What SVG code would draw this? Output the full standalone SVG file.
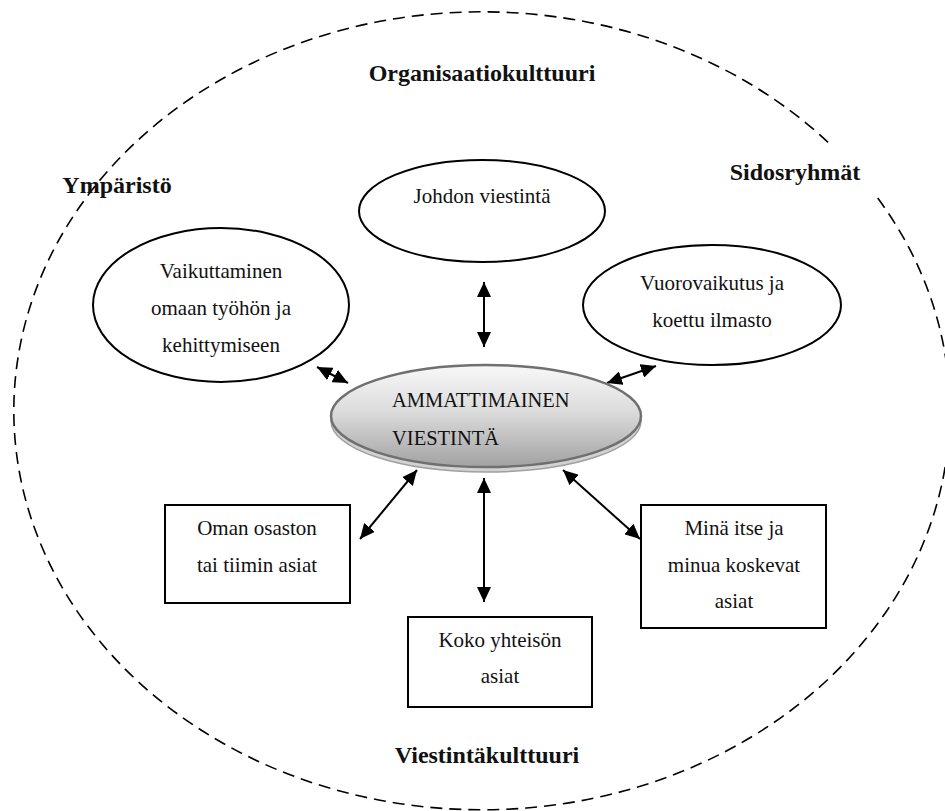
<svg xmlns="http://www.w3.org/2000/svg" width="945" height="811" viewBox="0 0 945 811">
<style>
.t{font-family:"Liberation Serif","Times New Roman",serif;font-size:21px;fill:#111;text-anchor:middle}
.b{font-family:"Liberation Serif","Times New Roman",serif;font-size:24px;font-weight:bold;fill:#111;text-anchor:middle}
.n{fill:#fff;stroke:#000;stroke-width:2}
.c{stroke:#000;stroke-width:2;fill:none;marker-start:url(#ah);marker-end:url(#ah)}
</style>
<defs>
<marker id="ah" markerUnits="userSpaceOnUse" markerWidth="16" markerHeight="14" refX="15" refY="7" orient="auto-start-reverse">
<path d="M0,0 L15,7 L0,14 z" fill="#000"/>
</marker>
<linearGradient id="g" x1="0" y1="0" x2="0" y2="1">
<stop offset="0" stop-color="#f8f8f8"/>
<stop offset="0.45" stop-color="#dcdcdc"/>
<stop offset="1" stop-color="#a2a2a2"/>
</linearGradient>
</defs>
<rect width="945" height="811" fill="#fff"/>
<g id="outer">
<path d="M877.7 198 A468 399 0 1 1 829.8 144" fill="none" stroke="#000" stroke-width="1.6" stroke-dasharray="12 7"/>
<text class="b" x="482" y="81">Organisaatiokulttuuri</text>
<text class="b" x="117" y="193">Ympäristö</text>
<text class="b" x="795" y="180">Sidosryhmät</text>
<text class="b" x="487" y="763">Viestintäkulttuuri</text>
</g>
<g id="connectors">
<line class="c" x1="484" y1="282" x2="484" y2="347"/>
<line class="c" x1="317" y1="367" x2="348" y2="383"/>
<line class="c" x1="607" y1="383" x2="656" y2="366"/>
<line class="c" x1="360" y1="539" x2="417" y2="470"/>
<line class="c" x1="484" y1="478" x2="484" y2="602"/>
<line class="c" x1="563" y1="470" x2="640" y2="539"/>
</g>
<g id="johdon">
<ellipse class="n" cx="482" cy="211" rx="123" ry="51"/>
<text class="t" x="482" y="203">Johdon viestintä</text>
</g>
<g id="vaikuttaminen">
<ellipse class="n" cx="221" cy="305" rx="128" ry="77"/>
<text class="t" x="221" y="278">Vaikuttaminen</text>
<text class="t" x="221" y="315">omaan työhön ja</text>
<text class="t" x="221" y="352">kehittymiseen</text>
</g>
<g id="vuorovaikutus">
<ellipse class="n" cx="712" cy="305" rx="129" ry="60"/>
<text class="t" x="712" y="290">Vuorovaikutus ja</text>
<text class="t" x="712" y="327">koettu ilmasto</text>
</g>
<g id="ammattimainen">
<ellipse cx="486" cy="421" rx="155" ry="51" fill="#d2d2d2" stroke="#a0a0a0" stroke-width="1.5"/>
<ellipse cx="486" cy="416" rx="155" ry="51" fill="url(#g)" stroke="#707070" stroke-width="2.5"/>
<text class="t" x="392" y="407" style="text-anchor:start;font-size:20.5px">AMMATTIMAINEN</text>
<text class="t" x="392" y="445" style="text-anchor:start;font-size:20.5px">VIESTINTÄ</text>
</g>
<g id="oman">
<rect class="n" x="165" y="505" width="185" height="98"/>
<text class="t" x="257" y="535">Oman osaston</text>
<text class="t" x="257" y="572">tai tiimin asiat</text>
</g>
<g id="koko">
<rect class="n" x="408" y="617" width="184" height="90"/>
<text class="t" x="500" y="647">Koko yhteisön</text>
<text class="t" x="500" y="683">asiat</text>
</g>
<g id="mina">
<rect class="n" x="641" y="505" width="185" height="123"/>
<text class="t" x="734" y="535">Minä itse ja</text>
<text class="t" x="734" y="572">minua koskevat</text>
<text class="t" x="734" y="608">asiat</text>
</g>
</svg>
